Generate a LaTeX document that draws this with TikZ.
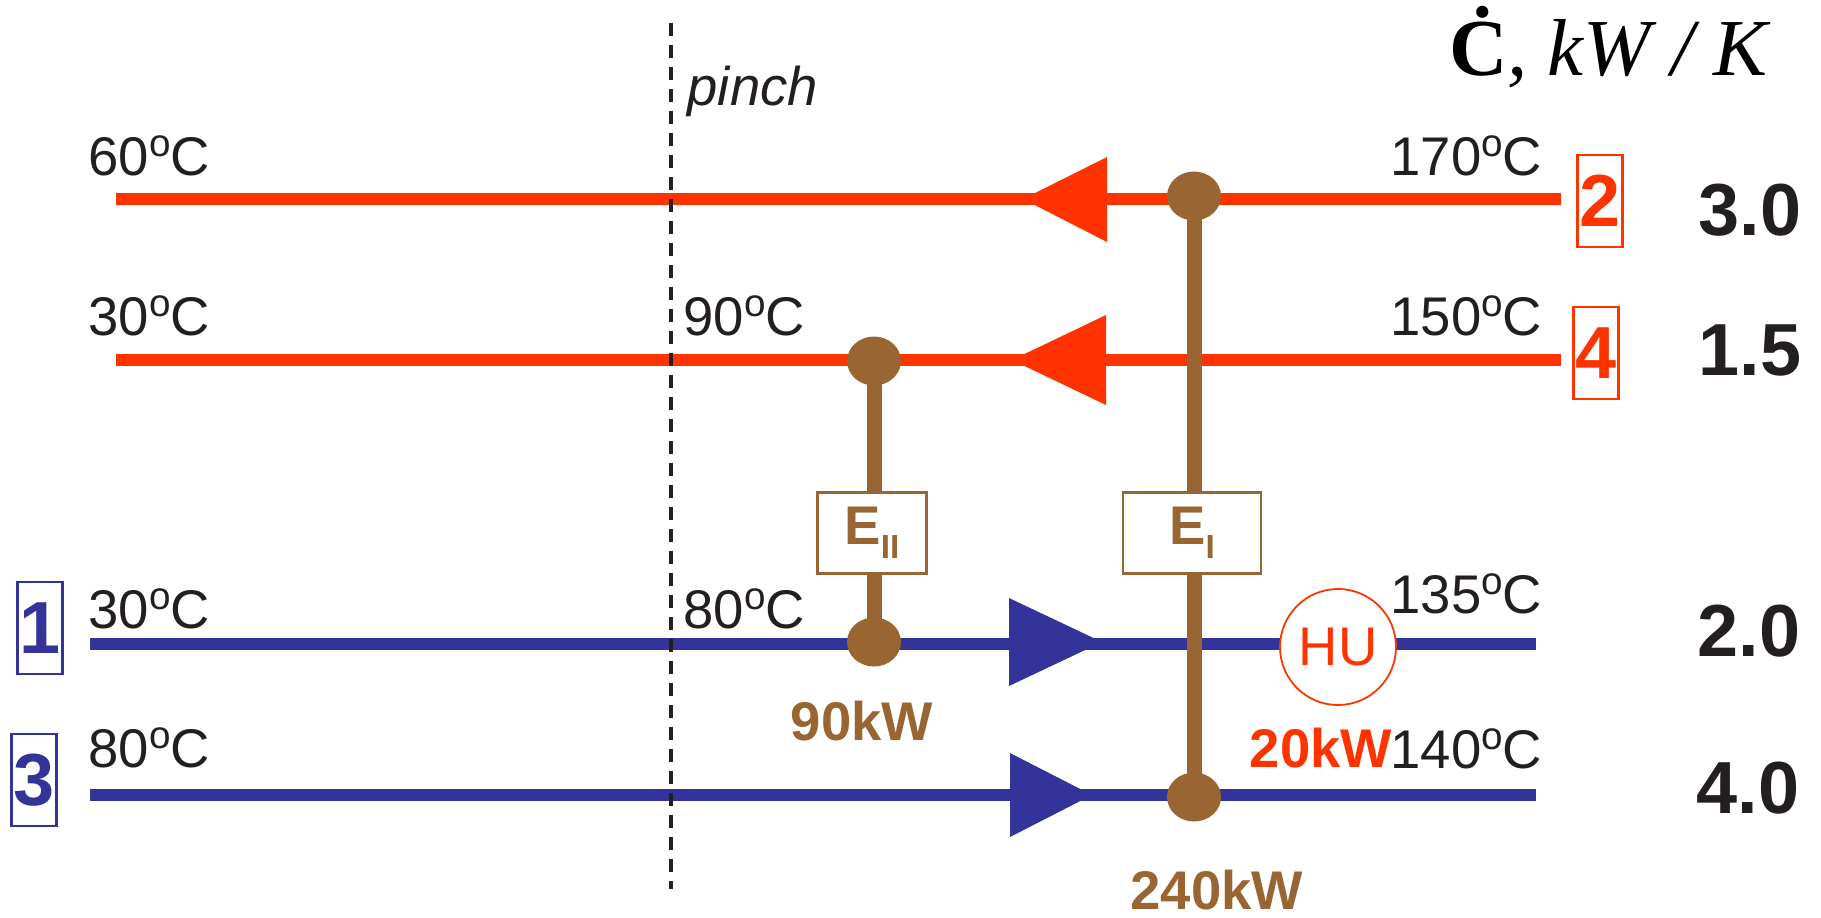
\documentclass[tikz,border=0pt]{standalone}
\usepackage{fontspec}
\setmainfont{Liberation Sans}
\newfontfamily\ttlserif{Liberation Serif}
\usetikzlibrary{shapes.geometric}
\definecolor{hotred}{RGB}{255,51,0}
\definecolor{coldblue}{RGB}{51,51,153}
\definecolor{hxbrown}{RGB}{153,102,51}
\definecolor{ink}{RGB}{35,31,32}
\newcommand{\degc}{\raisebox{5.4pt}{\fontsize{11}{11}\selectfont o}C}
\newcommand{\hxsub}[1]{\raisebox{-0.14cm}{\fontsize{9.5}{10}\selectfont #1}}
\tikzset{
  HS/.style={line width=0.12cm,draw=hotred},
  CS/.style={line width=0.12cm,draw=coldblue},
  ST/.style={line width=0.15cm,draw=hxbrown},
  DT/.style={ellipse,fill=hxbrown,minimum width=0.54cm,minimum height=0.49cm,inner sep=0pt,outer sep=0pt},
  HX/.style={draw=hxbrown,fill=white,line width=0.6pt,minimum height=0.81cm,inner sep=0pt,font=\fontsize{15.5}{18}\selectfont\bfseries\color{hxbrown}},
  TL/.style={inner sep=0pt,text=ink},
  ID/.style={draw,line width=0.6pt,minimum width=0.45cm,minimum height=0.92cm,inner sep=0pt,font=\fontsize{21}{24}\selectfont\bfseries},
  CP/.style={inner sep=0pt,text=ink,font=\fontsize{21}{24}\selectfont\bfseries},
  DU/.style={inner sep=0pt,font=\fontsize{15.5}{18}\selectfont\bfseries},
  PL/.style={line width=0.04cm,draw=ink,dash pattern=on 0.13cm off 0.09cm},
}

\begin{document}
\begin{tikzpicture}[font=\fontsize{15.5}{18}\selectfont]
\useasboundingbox (0,0) rectangle (18.21,-9.17);

% Stream end points
\coordinate (s2a) at (1.16,-1.99);  \coordinate (s2b) at (15.61,-1.99);
\coordinate (s4a) at (1.16,-3.60);  \coordinate (s4b) at (15.61,-3.60);
\coordinate (s1a) at (0.90,-6.44);  \coordinate (s1b) at (15.36,-6.44);
\coordinate (s3a) at (0.90,-7.95);  \coordinate (s3b) at (15.36,-7.95);

% Hot streams
\draw[HS](s2b)--(s2a);
\draw[HS](s4b)--(s4a);
\fill[hotred](11.07,-1.57)--(10.23,-1.99)--(11.07,-2.42)--cycle;
\fill[hotred](11.06,-3.15)--(10.12,-3.60)--(11.06,-4.05)--cycle;

% Cold streams
\draw[CS](s1a)--(s1b);
\draw[CS](s3a)--(s3b);
\fill[coldblue](10.09,-5.98)--(11.02,-6.42)--(10.09,-6.86)--cycle;
\fill[coldblue](10.10,-7.53)--(10.92,-7.95)--(10.10,-8.37)--cycle;

% Pinch
\coordinate (pintop) at (6.71,-0.23);
\coordinate (pinbot) at (6.71,-8.89);
\draw[PL](pintop)--(pinbot);
\node[anchor=base west,inner sep=0pt,text=ink,font=\fontsize{15.5}{18}\selectfont\itshape](pinch) at (6.87,-1.05){pinch};

% Temperatures
\node[TL,anchor=base west](t2in)  at (0.88,-1.75){60\degc};
\node[TL,anchor=base east](t2out) at (15.43,-1.75){170\degc};
\node[TL,anchor=base west](t4in)  at (0.88,-3.35){30\degc};
\node[TL,anchor=base west](t4mid) at (6.83,-3.35){90\degc};
\node[TL,anchor=base east](t4out) at (15.43,-3.35){150\degc};
\node[TL,anchor=base west](t1in)  at (0.88,-6.28){30\degc};
\node[TL,anchor=base west](t1mid) at (6.83,-6.28){80\degc};
\node[TL,anchor=base east](t1out) at (15.43,-6.13){135\degc};
\node[TL,anchor=base west](t3in)  at (0.88,-7.67){80\degc};
\node[TL,anchor=base east](t3out) at (15.43,-7.68){140\degc};

% Stream numbers
\node[ID,draw=hotred,text=hotred](n2)   at (16.00,-2.01){2};
\node[ID,draw=hotred,text=hotred](n4)   at (15.96,-3.53){4};
\node[ID,draw=coldblue,text=coldblue](n1) at (0.40,-6.28){1};
\node[ID,draw=coldblue,text=coldblue](n3) at (0.34,-7.80){3};

% Heat capacity flow rates
\node[anchor=base east,inner sep=0pt,text=black,font=\fontsize{23}{26}\selectfont\ttlserif](cphead) at (17.72,-0.75){\textbf{Ċ}\textit{, kW / K}};
\node[CP,anchor=base](cp2) at (17.50,-2.35){3.0};
\node[CP,anchor=base](cp4) at (17.50,-3.75){1.5};
\node[CP,anchor=base](cp1) at (17.49,-6.56){2.0};
\node[CP,anchor=base](cp3) at (17.48,-8.13){4.0};

% Exchanger E_II
\node[DT](e2hot)  at (8.74,-3.61){};
\node[DT](e2cold) at (8.74,-6.42){};
\draw[ST](e2hot.center)--(e2cold.center);
\node[HX,minimum width=1.09cm](eII) at (8.72,-5.33){E\hxsub{II}};
\node[DU,text=hxbrown](q2) at (8.62,-7.21){90kW};

% Exchanger E_I
\node[DT](e1hot)  at (11.94,-1.96){};
\node[DT](e1cold) at (11.94,-7.97){};
\draw[ST](e1hot.center)--(e1cold.center);
\node[HX,minimum width=1.38cm](eI) at (11.92,-5.33){E\hxsub{I}\hspace{0.3cm}};
\node[DU,text=hxbrown](q1) at (12.17,-8.90){240kW};

% Heater
\node[circle,draw=hotred,fill=white,line width=0.5pt,minimum size=1.16cm,inner sep=0pt,text=hotred](hu) at (13.38,-6.47){HU};
\node[DU,text=hotred](qhu) at (13.21,-7.48){20kW};

\end{tikzpicture}
\end{document}
